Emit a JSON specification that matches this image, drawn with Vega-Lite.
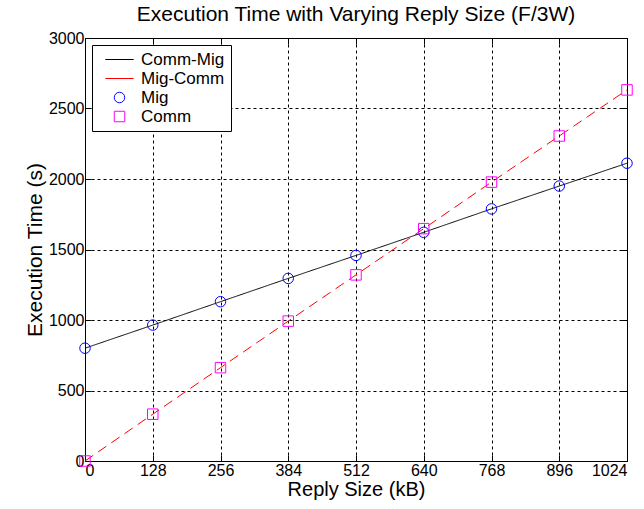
{
  "$schema": "https://vega.github.io/schema/vega-lite/v6.json",
  "autosize": {"type": "none"},
  "width": 542,
  "height": 423,
  "padding": {"left": 85, "top": 38, "right": 17, "bottom": 48},
  "background": "white",
  "title": {
    "text": "Execution Time with Varying Reply Size (F/3W)",
    "fontSize": 21,
    "fontWeight": "normal",
    "font": "Liberation Sans",
    "color": "#000000",
    "offset": 5
  },
  "config": {
    "font": "Liberation Sans",
    "view": {"stroke": "#000000", "strokeWidth": 1},
    "axis": {
      "domainColor": "#000000",
      "tickColor": "#000000",
      "labelColor": "#000000",
      "titleColor": "#000000",
      "labelFontSize": 16,
      "titleFontSize": 20,
      "titleFontWeight": "normal",
      "gridColor": "#000000",
      "gridDash": [3, 3],
      "gridOpacity": 1,
      "gridWidth": 1,
      "tickSize": -6,
      "labelPadding": 7,
      "format": "d"
    }
  },
  "resolve": {"axis": {"x": "independent", "y": "independent"}},
  "data": {
    "values": [
      {"size": 0, "series": "Comm-Mig", "time": 800},
      {"size": 128, "series": "Comm-Mig", "time": 964},
      {"size": 256, "series": "Comm-Mig", "time": 1130},
      {"size": 384, "series": "Comm-Mig", "time": 1295},
      {"size": 512, "series": "Comm-Mig", "time": 1458},
      {"size": 640, "series": "Comm-Mig", "time": 1622},
      {"size": 768, "series": "Comm-Mig", "time": 1788},
      {"size": 896, "series": "Comm-Mig", "time": 1950},
      {"size": 1024, "series": "Comm-Mig", "time": 2112},
      {"size": 0, "series": "Mig-Comm", "time": 0},
      {"size": 128, "series": "Mig-Comm", "time": 332},
      {"size": 256, "series": "Mig-Comm", "time": 662},
      {"size": 384, "series": "Mig-Comm", "time": 992},
      {"size": 512, "series": "Mig-Comm", "time": 1320},
      {"size": 640, "series": "Mig-Comm", "time": 1648},
      {"size": 768, "series": "Mig-Comm", "time": 1978},
      {"size": 896, "series": "Mig-Comm", "time": 2305},
      {"size": 1024, "series": "Mig-Comm", "time": 2632},
      {"size": 0, "series": "Mig", "time": 800},
      {"size": 128, "series": "Mig", "time": 964},
      {"size": 256, "series": "Mig", "time": 1130},
      {"size": 384, "series": "Mig", "time": 1295},
      {"size": 512, "series": "Mig", "time": 1458},
      {"size": 640, "series": "Mig", "time": 1622},
      {"size": 768, "series": "Mig", "time": 1788},
      {"size": 896, "series": "Mig", "time": 1950},
      {"size": 1024, "series": "Mig", "time": 2112},
      {"size": 0, "series": "Comm", "time": 0},
      {"size": 128, "series": "Comm", "time": 332},
      {"size": 256, "series": "Comm", "time": 662},
      {"size": 384, "series": "Comm", "time": 992},
      {"size": 512, "series": "Comm", "time": 1320},
      {"size": 640, "series": "Comm", "time": 1648},
      {"size": 768, "series": "Comm", "time": 1978},
      {"size": 896, "series": "Comm", "time": 2305},
      {"size": 1024, "series": "Comm", "time": 2632}
    ]
  },
  "encoding": {
    "color": {
      "field": "series",
      "type": "nominal",
      "scale": {
        "domain": ["Comm-Mig", "Mig-Comm", "Mig", "Comm"],
        "range": ["#000000", "#ff0000", "#0000ff", "#ff00ff"]
      },
      "legend": {
        "title": null,
        "orient": "top-left",
        "offset": 7,
        "strokeColor": "#000000",
        "fillColor": "#ffffff",
        "padding": 6,
        "rowPadding": 1,
        "labelFontSize": 17,
        "labelColor": "#000000",
        "labelOffset": 13,
        "symbolOffset": 13,
        "symbolSize": 110,
        "symbolStrokeWidth": 1,
        "symbolFillColor": "transparent"
      }
    }
  },
  "layer": [
    {
      "transform": [{"filter": {"field": "series", "oneOf": ["Comm-Mig", "Mig-Comm"]}}],
      "mark": {"type": "line", "strokeWidth": 1},
      "encoding": {
        "x": {
          "field": "size",
          "type": "quantitative",
          "title": "Reply Size (kB)",
          "scale": {"domain": [0, 1024], "nice": false, "zero": false},
          "axis": {"values": [0, 128, 256, 384, 512, 640, 768, 896, 1024], "titlePadding": 1}
        },
        "y": {
          "field": "time",
          "type": "quantitative",
          "title": "Execution Time (s)",
          "scale": {"domain": [0, 3000], "nice": false},
          "axis": {"values": [0, 500, 1000, 1500, 2000, 2500, 3000], "titlePadding": 3, "titleFontSize": 21}
        },
        "strokeDash": {
          "field": "series",
          "type": "nominal",
          "scale": {"domain": ["Comm-Mig", "Mig-Comm"], "range": [[1, 0], [10, 6]]},
          "legend": null
        }
      }
    },
    {
      "transform": [{"filter": {"field": "series", "oneOf": ["Mig", "Comm"]}}],
      "mark": {"type": "point", "filled": false, "strokeWidth": 1, "opacity": 1, "size": 110},
      "encoding": {
        "x": {
          "field": "size",
          "type": "quantitative",
          "axis": {
            "orient": "top",
            "values": [0, 128, 256, 384, 512, 640, 768, 896, 1024],
            "labels": false,
            "grid": false,
            "domain": false,
            "title": null
          }
        },
        "y": {
          "field": "time",
          "type": "quantitative",
          "axis": {
            "orient": "right",
            "values": [0, 500, 1000, 1500, 2000, 2500, 3000],
            "labels": false,
            "grid": false,
            "domain": false,
            "title": null
          }
        },
        "shape": {
          "field": "series",
          "type": "nominal",
          "scale": {
            "domain": ["Comm-Mig", "Mig-Comm", "Mig", "Comm"],
            "range": ["M-2.7,0H2.7", "M-2.7,0H2.7", "circle", "square"]
          },
          "legend": {"title": null}
        }
      }
    }
  ]
}
